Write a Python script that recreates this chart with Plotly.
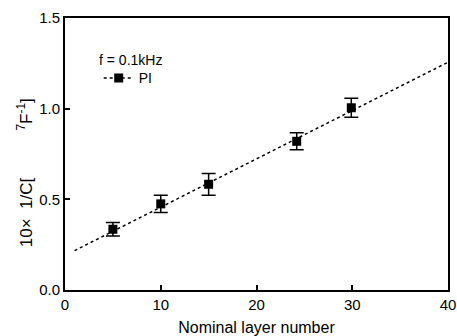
import plotly.graph_objects as go

layers = [5, 10, 15, 24.2, 29.9]
inv_c = [0.335, 0.475, 0.583, 0.82, 1.005]
err = [0.037, 0.047, 0.06, 0.047, 0.053]
fit_x = [1, 40]
fit_y = [0.217, 1.256]
x_ticks = [0, 10, 20, 30, 40]
y_ticks = [0.0, 0.5, 1.0, 1.5]

fig = go.Figure()
fig.add_trace(go.Scatter(x=fit_x, y=fit_y, mode="lines",
                         line=dict(color="black", dash="dot", width=1.5),
                         showlegend=False, hoverinfo="skip"))
fig.add_trace(go.Scatter(x=layers, y=inv_c, mode="markers",
                         marker=dict(symbol="square", size=9, color="black"),
                         error_y=dict(type="data", array=err, color="black", thickness=1.5, width=7),
                         showlegend=False))
fig.add_trace(go.Scatter(x=[None], y=[None], mode="lines+markers", name="PI",
                         line=dict(color="black", dash="dot", width=1.5),
                         marker=dict(symbol="square", size=9, color="black")))

axis_common = dict(showline=True, linecolor="black", linewidth=2, mirror=True,
                   ticks="inside", ticklen=5, tickcolor="black", tickwidth=1.5,
                   showgrid=False, zeroline=False, automargin=False,
                   ticklabeloverflow="allow",
                   tickfont=dict(family="Liberation Sans, Arial", size=15, color="black"))

fig.update_layout(
    width=457, height=336,
    margin=dict(l=65, r=9, t=18, b=46),
    paper_bgcolor="white", plot_bgcolor="white",
    font=dict(family="Liberation Sans, Arial", color="black"),
    xaxis=dict(range=[0, 40], tickvals=x_ticks, ticktext=[str(v) for v in x_ticks],
               ticklabelstandoff=0,
               title=dict(text="Nominal layer number", font=dict(size=16, color="black"), standoff=11),
               **axis_common),
    yaxis=dict(range=[0, 1.5], tickvals=y_ticks, ticktext=["0.0", "0.5", "1.0", "1.5"],
               **axis_common),
    legend=dict(x=0.088, y=0.778, xanchor="left", yanchor="middle",
                bgcolor="rgba(0,0,0,0)", font=dict(size=14, color="black"),
                itemwidth=30, tracegroupgap=0),
    annotations=[
        dict(text="f = 0.1kHz", xref="paper", yref="paper", x=0.083, y=0.846,
             xanchor="left", yanchor="middle", showarrow=False,
             font=dict(size=14, color="black")),
        dict(text="10×\u00a0\u00a01/C[" + "\u00a0" * 10 + "<sup>7</sup>F<sup>-1</sup>]",
             xref="paper", yref="paper", x=-0.104, y=0.43, xanchor="center", yanchor="middle",
             textangle=-90, showarrow=False, font=dict(size=17, color="black")),
    ],
)

fig.write_html("out.html",
               config={"displayModeBar": False},
               post_script="document.body.style.margin='0';"
                           "document.documentElement.style.overflow='hidden';"
                           "document.body.style.overflow='hidden';")
